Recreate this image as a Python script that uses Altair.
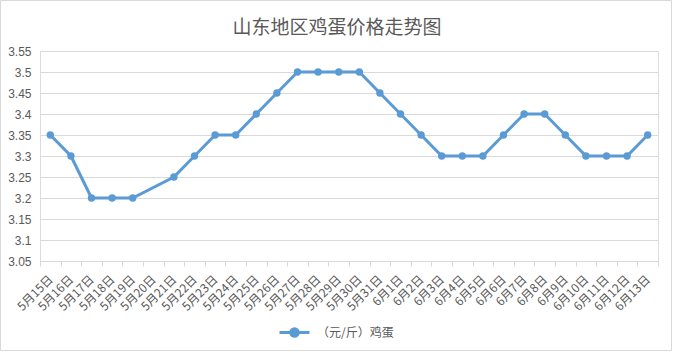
import altair as alt
import pandas as pd

dates = ["5月15日", "5月16日", "5月17日", "5月18日", "5月19日", "5月20日", "5月21日",
         "5月22日", "5月23日", "5月24日", "5月25日", "5月26日", "5月27日", "5月28日",
         "5月29日", "5月30日", "5月31日", "6月1日", "6月2日", "6月3日", "6月4日",
         "6月5日", "6月6日", "6月7日", "6月8日", "6月9日", "6月10日", "6月11日",
         "6月12日", "6月13日"]
prices = [3.35, 3.3, 3.2, 3.2, 3.2, None, 3.25, 3.3, 3.35, 3.35, 3.4, 3.45, 3.5, 3.5,
          3.5, 3.5, 3.45, 3.4, 3.35, 3.3, 3.3, 3.3, 3.35, 3.4, 3.4, 3.35, 3.3, 3.3,
          3.3, 3.35]
series_name = "（元/斤）鸡蛋"
chart_title = "山东地区鸡蛋价格走势图"
y_ticks = [3.05, 3.1, 3.15, 3.2, 3.25, 3.3, 3.35, 3.4, 3.45, 3.5, 3.55]

df = pd.DataFrame({"date": dates, "price": prices, "series": [series_name] * len(dates)})

BLUE = "#5b9bd5"
GRAY = "#595959"
LIGHT = "#d9d9d9"
CJK = "Noto Sans CJK SC"

legend_symbol = ("M-1,0L-0.25,0M0.25,0L1,0"
                 "M-0.25,0A0.25,0.25 0 1,1 0.25,0A0.25,0.25 0 1,1 -0.25,0Z")

line = alt.Chart(df).transform_filter("isValid(datum.price)").mark_line(
    strokeWidth=3,
    point=alt.OverlayMarkDef(size=55, filled=True, opacity=1),
).encode(
    x=alt.X("date:N", sort=dates, bandPosition=0.5,
            scale=alt.Scale(type="band", domain=dates, paddingInner=0, paddingOuter=0),
            axis=alt.Axis(title=None, tickBand="extent", labelAngle=315,
                          labelAlign="right", labelBaseline="middle", labelPadding=11,
                          labelOverlap=False, domainColor=LIGHT, tickColor=LIGHT,
                          tickSize=5, grid=False, labelColor=GRAY, labelFontSize=12,
                          labelFont=CJK)),
    y=alt.Y("price:Q",
            scale=alt.Scale(domain=[3.05, 3.55], nice=False, zero=False),
            axis=alt.Axis(title=None, values=y_ticks, format=".2~f", domain=False,
                          ticks=False, gridColor=LIGHT, labelPadding=9,
                          labelColor=GRAY, labelFontSize=12,
                          labelFont="Liberation Sans")),
    color=alt.Color("series:N", scale=alt.Scale(range=[BLUE]),
                    legend=alt.Legend(title=None, orient="none", legendX=238,
                                      legendY=265, direction="horizontal",
                                      symbolType=legend_symbol, symbolSize=900,
                                      symbolStrokeWidth=3, symbolFillColor=BLUE,
                                      symbolStrokeColor=BLUE, labelColor=GRAY,
                                      labelFontSize=12, labelFont=CJK,
                                      labelOffset=6)),
)

one_row = pd.DataFrame({"t": [chart_title]})

border = alt.Chart(one_row).mark_rect(
    fillOpacity=0, stroke=LIGHT, strokeWidth=1
).encode(x=alt.value(-39.5), x2=alt.value(631.5), y=alt.value(-50.5), y2=alt.value(299.5))

title = alt.Chart(one_row).mark_text(
    fontSize=19, color=GRAY, font=CJK, fontWeight="normal", align="center",
    baseline="middle"
).encode(text="t:N", x=alt.value(297), y=alt.value(-23))

chart = alt.layer(border, title, line).properties(
    width=618, height=210,
    autosize=alt.AutoSizeParams(type="none"),
    padding={"left": 40, "top": 51, "right": 15, "bottom": 91},
).configure_view(stroke=None).configure(background="white")

chart.save("out.html", embed_options={"renderer": "svg", "actions": False})
